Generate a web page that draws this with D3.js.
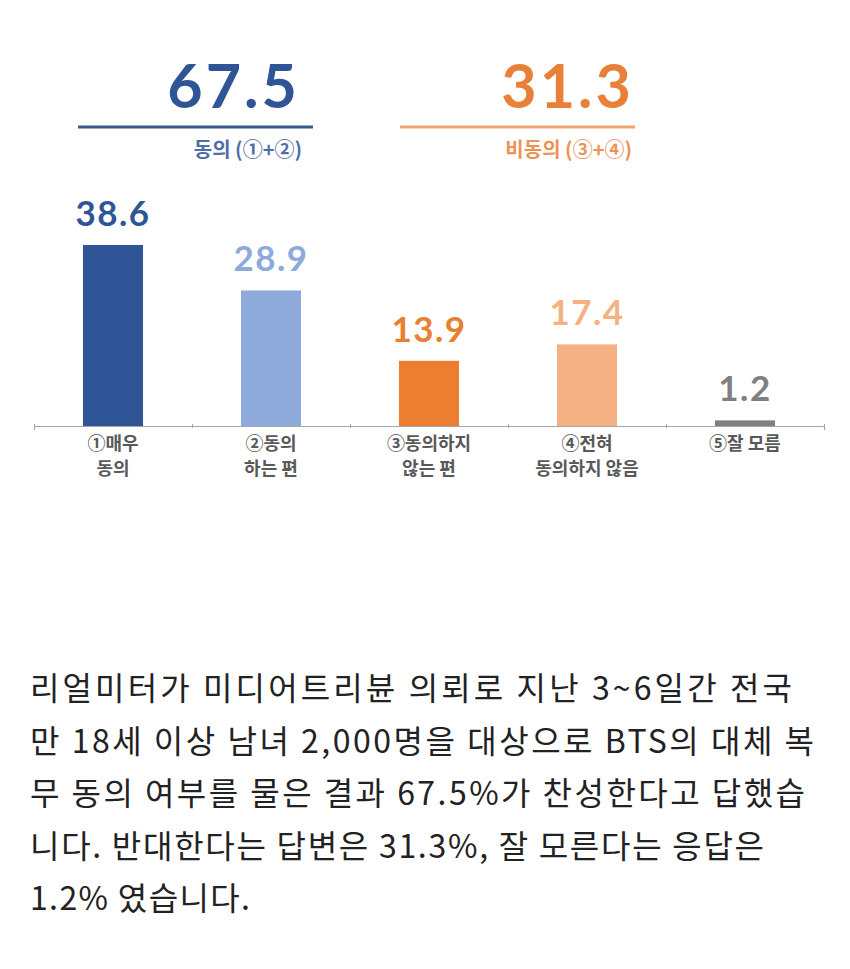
<!DOCTYPE html>
<html><head><meta charset="utf-8">
<script src="https://cdn.jsdelivr.net/npm/d3@7"></script>
<style>
html,body{margin:0;padding:0;background:#fff;}
svg{display:block;}
</style></head>
<body>
<script>
const categories = ["①매우\n동의", "②동의\n하는 편", "③동의하지\n않는 편", "④전혀\n동의하지 않음", "⑤잘 모름"];
const values = [38.6, 28.9, 13.9, 17.4, 1.2];
const barColors = ["#2f5597", "#8eaadb", "#ed7d31", "#f4b183", "#7f7f7f"];
const labelColors = ["#2f5597", "#8eaadb", "#e8802f", "#f4b183", "#7f7f7f"];
const summaryValues = [67.5, 31.3];
const summaryLabels = ["동의 (①+②)", "비동의 (③+④)"];
const summaryColors = ["#2f5597", "#e8803a"];
const summaryLineColors = ["#3b5a8c", "#f2a573"];
const paragraph = [
  "리얼미터가 미디어트리뷴 의뢰로 지난 3~6일간 전국",
  "만 18세 이상 남녀 2,000명을 대상으로 BTS의 대체 복",
  "무 동의 여부를 물은 결과 67.5%가 찬성한다고 답했습",
  "니다. 반대한다는 답변은 31.3%, 잘 모른다는 응답은",
  "1.2% 였습니다."
];
const paragraphWidths = [762, 784, 775, 734, 220];

const W = 850, H = 969;
const svg = d3.select("body").append("svg").attr("width", W).attr("height", H);

const font = "'Noto Sans CJK KR', 'Noto Sans', sans-serif";

// summary
const sumG = svg.append("g");
const lineX = [[78, 313], [400, 635]];
const numRight = [300, 634];
const labRight = [302, 632];
summaryValues.forEach((v, i) => {
  sumG.append("text").attr("x", numRight[i]).attr("y", 108)
    .attr("text-anchor", "end").attr("font-family", "Lato, 'Noto Sans', sans-serif")
    .attr("font-weight", 700).attr("font-size", 61).attr("letter-spacing", 3)
    .attr("fill", summaryColors[i]).text(v.toFixed(1));
  sumG.append("line").attr("x1", lineX[i][0]).attr("x2", lineX[i][1]).attr("y1", 127).attr("y2", 127)
    .attr("stroke", summaryLineColors[i]).attr("stroke-width", 3);
  sumG.append("text").attr("x", labRight[i]).attr("y", 157)
    .attr("text-anchor", "end").attr("font-family", font).attr("font-weight", 700)
    .attr("font-size", 20).attr("fill", summaryColors[i]).attr("opacity", 0.85)
    .text(summaryLabels[i]);
});

// bar chart
const x = d3.scaleBand().domain(d3.range(categories.length)).range([34, 824]).paddingInner(0.62).paddingOuter(0.31);
const y = d3.scaleLinear().domain([0, 40]).range([426, 426 - 40 * 4.69]);

const axis = d3.axisBottom(d3.scaleLinear().domain([0, 5]).range([34, 824]))
  .ticks(5).tickSize(4).tickFormat("");
const ax = svg.append("g").attr("transform", "translate(0,426)").call(axis);
ax.select(".domain").attr("stroke", "#a6a6a6").attr("stroke-width", 1.2);
ax.selectAll(".tick line").attr("stroke", "#a6a6a6").attr("transform", "translate(0,-2)");

svg.append("g").selectAll("rect").data(values).join("rect")
  .attr("x", (d, i) => x(i)).attr("width", x.bandwidth())
  .attr("y", d => y(d)).attr("height", d => y(0) - y(d))
  .attr("fill", (d, i) => barColors[i]);

svg.append("g").selectAll("text").data(values).join("text")
  .attr("x", (d, i) => x(i) + x.bandwidth() / 2)
  .attr("y", d => y(d) - 19)
  .attr("text-anchor", "middle").attr("font-family", "Lato, 'Noto Sans', sans-serif")
  .attr("font-weight", 700).attr("font-size", 35).attr("letter-spacing", 1.5)
  .attr("fill", (d, i) => labelColors[i]).text(d => d.toFixed(1));

const catG = svg.append("g");
categories.forEach((c, i) => {
  const t = catG.append("text").attr("x", x(i) + x.bandwidth() / 2).attr("y", 450)
    .attr("text-anchor", "middle").attr("font-family", font).attr("font-weight", 700)
    .attr("font-size", 18).attr("fill", "#595959");
  c.split("\n").forEach((line, j) => {
    t.append("tspan").attr("x", x(i) + x.bandwidth() / 2).attr("dy", j === 0 ? 0 : 25).text(line);
  });
});

// paragraph
const pg = svg.append("g");
paragraph.forEach((line, i) => {
  pg.append("text").attr("x", 30).attr("y", 700 + i * 52.5)
    .attr("font-family", font).attr("font-size", 32).attr("font-weight", 400)
    .attr("fill", "#222")
    .attr("textLength", paragraphWidths[i]).attr("lengthAdjust", "spacing")
    .text(line);
});
</script>
</body></html>
